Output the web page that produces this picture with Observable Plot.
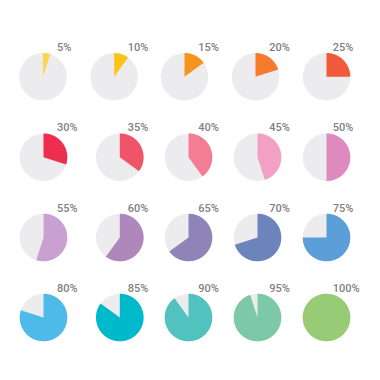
<!DOCTYPE html>
<html>
<head>
<meta charset="utf-8">
<script src="https://cdn.jsdelivr.net/npm/d3@7"></script>
<script src="https://cdn.jsdelivr.net/npm/@observablehq/plot@0.6"></script>
<style>
  html, body { margin: 0; padding: 0; background: #ffffff; }
  #chart svg { display: block; }
</style>
</head>
<body>
<div id="chart"></div>
<script>
// ---- data ----
const labels = ["5%", "10%", "15%", "20%", "25%",
                "30%", "35%", "40%", "45%", "50%",
                "55%", "60%", "65%", "70%", "75%",
                "80%", "85%", "90%", "95%", "100%"];
const values = [5, 10, 15, 20, 25, 30, 35, 40, 45, 50,
                55, 60, 65, 70, 75, 80, 85, 90, 95, 100];
const colors = ["#F8D64E", "#FCC419", "#F7941E", "#F47B2C", "#F05A3B",
                "#EE2E4E", "#F05468", "#F37D95", "#F2A1C5", "#DF8ABF",
                "#C8A1D1", "#AE88BA", "#8F84B7", "#6C83BB", "#5C9ED8",
                "#4EBAEA", "#00B9CB", "#52C2BF", "#7DC8A6", "#97CB76"];

// ---- layout (pixels) ----
const W = 380, H = 380, R = 23.8;
const colCx = [[42.5, 113.7, 184, 255, 326], [43, 119.3, 188, 257, 326]];
const rowCy = [76.3, 156.7, 237, 317];
const labelX = [56.5, 127.2, 197.8, 268.8, 332.2];
const cols = 5;

const pies = values.map((v, i) => {
  const row = Math.floor(i / cols), col = i % cols;
  return {
    label: labels[i], value: v, color: colors[i],
    cx: colCx[row === 0 ? 0 : 1][col], cy: rowCy[row],
    lx: labelX[col], ly: rowCy[row] - 26.0
  };
});

// wedge polygons derived from each value (clockwise from 12 o'clock)
const wedgePts = [];
for (const p of pies) {
  const a1 = p.value / 100 * 2 * Math.PI;
  const n = Math.max(2, Math.ceil(p.value * 3.6));
  if (p.value < 100) wedgePts.push({key: p.label, color: p.color, x: p.cx, y: p.cy});
  for (let k = 0; k <= n; k++) {
    const a = a1 * k / n;
    wedgePts.push({key: p.label, color: p.color, x: p.cx + R * Math.sin(a), y: p.cy - R * Math.cos(a)});
  }
}

const chart = Plot.plot({
  width: W, height: H,
  margin: 0,
  x: {domain: [0, W], range: [0, W], axis: null},
  y: {domain: [0, H], range: [0, H], axis: null},
  style: {background: "#ffffff"},
  marks: [
    Plot.dot(pies, {x: "cx", y: "cy", r: R, fill: "#ECECEE", stroke: "none"}),
    Plot.line(wedgePts, {x: "x", y: "y", z: "key", fill: "color", stroke: "none", curve: "linear-closed"}),
    Plot.text(pies, {x: "lx", y: "ly", text: "label", textAnchor: "start", lineAnchor: "bottom",
      fill: "#7f7f7f", fontSize: 11, fontWeight: 500, fontFamily: "Roboto"})
  ]
});
document.getElementById("chart").appendChild(chart);
</script>
</body>
</html>
